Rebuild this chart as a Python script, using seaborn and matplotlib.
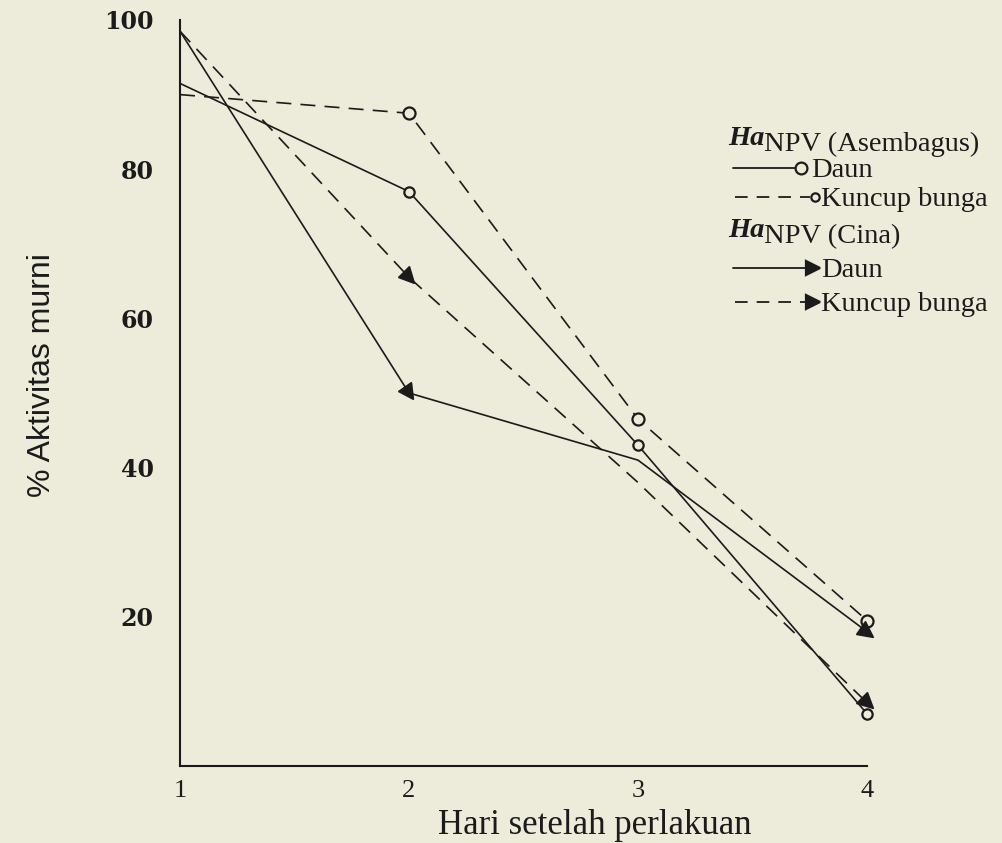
import numpy as np
import pandas as pd
import matplotlib
matplotlib.use("Agg")
import matplotlib.pyplot as plt
import seaborn as sns
from matplotlib.lines import Line2D
from matplotlib.markers import MarkerStyle
from matplotlib.transforms import Affine2D

# ---------------- data ----------------
days = [1, 2, 3, 4]
ase_daun = [91.5, 77.0, 43.0, 7.0]        # HaNPV (Asembagus) - Daun
ase_kuncup = [90.0, 87.5, 46.5, 19.5]     # HaNPV (Asembagus) - Kuncup bunga
cina_daun = [98.5, 50.0, 41.0, 18.0]      # HaNPV (Cina) - Daun
cina_kuncup = [98.5, 65.5, 38.0, 8.5]     # HaNPV (Cina) - Kuncup bunga
y_ticks = [20, 40, 60, 80, 100]
x_ticks = [1, 2, 3, 4]
x_label = "Hari setelah perlakuan"
y_label = "% Aktivitas murni"
group_names = ["(Asembagus)", "(Cina)"]
item_names = ["Daun", "Kuncup bunga"]

BG = '#edebd9'
INK = '#1b1b1b'
W, H = 1003, 843

sns.set_theme(style='white')
plt.rcParams['font.family'] = ['Liberation Serif', 'DejaVu Serif']

fig = plt.figure(figsize=(W / 100, H / 100), dpi=100, facecolor=BG)
ax_l, ax_r, ax_t, ax_b = 180, 867, 20, 766
ax = fig.add_axes([ax_l / W, 1 - ax_b / H, (ax_r - ax_l) / W, (ax_b - ax_t) / H])
ax.set_facecolor(BG)

df = pd.DataFrame({
    'hari': days * 4,
    'aktivitas': ase_daun + ase_kuncup + cina_daun + cina_kuncup,
    'seri': ['ase_daun'] * 4 + ['ase_kuncup'] * 4 + ['cina_daun'] * 4 + ['cina_kuncup'] * 4,
})
pal = {k: INK for k in df['seri'].unique()}
dash = {'ase_daun': '', 'ase_kuncup': (9, 5.5), 'cina_daun': '', 'cina_kuncup': (9, 5.5)}
sns.lineplot(data=df, x='hari', y='aktivitas', hue='seri', style='seri',
             palette=pal, dashes=dash, legend=False, ax=ax, lw=1.2, sort=False)

ax.set_xlim(1, 4)
ax.set_ylim(0, 100)

# open circles (Asembagus) on days 2-4
sub = df[(df['seri'] == 'ase_kuncup') & (df['hari'] > 1)]
sns.scatterplot(data=sub, x='hari', y='aktivitas', marker='o', s=75, facecolor=BG,
                edgecolor=INK, linewidth=1.6, ax=ax, zorder=5, legend=False, clip_on=False)
sub = df[(df['seri'] == 'ase_daun') & (df['hari'] > 1)]
sns.scatterplot(data=sub, x='hari', y='aktivitas', marker='o', s=55, facecolor=BG,
                edgecolor=INK, linewidth=1.6, ax=ax, zorder=5, legend=False, clip_on=False)

# arrowhead triangles (Cina) on days 2 and 4, oriented along the incoming line
for vals in (cina_daun, cina_kuncup):
    for i in (1, 3):
        p0 = ax.transData.transform((days[i - 1], vals[i - 1]))
        p1 = ax.transData.transform((days[i], vals[i]))
        ang = np.degrees(np.arctan2(p1[1] - p0[1], p1[0] - p0[0]))
        m = MarkerStyle('>', transform=Affine2D().rotate_deg(ang))
        ax.plot([days[i]], [vals[i]], marker=m, ms=11, color=INK, mec=INK,
                zorder=6, clip_on=False)

# axes styling
sns.despine(ax=ax)
for s in ('left', 'bottom'):
    ax.spines[s].set_color(INK)
    ax.spines[s].set_linewidth(1.5)
ax.set_yticks(y_ticks)
ax.set_yticklabels([str(v) for v in y_ticks], fontfamily='DejaVu Serif',
                   fontweight='bold', fontsize=17, color=INK)
ax.set_xticks(x_ticks)
ax.set_xticklabels([str(v) for v in x_ticks], fontsize=19, color=INK)
ax.tick_params(axis='y', direction='in', length=8, width=1.4, pad=19, color=INK)
ax.tick_params(axis='x', direction='inout', length=8, width=1.4, pad=6, color=INK)
ax.set_xlabel('')
ax.set_ylabel('')

def fx(x):
    return x / W

def fy(y):
    return 1 - y / H

fig.text(fx(595), fy(826), x_label, ha='center', va='center', fontsize=25, color=INK)
fig.text(fx(42), fy(375), y_label, ha='center', va='center', rotation=90,
         fontsize=23, color=INK, family=['Liberation Sans', 'DejaVu Sans'])

# ---------------- legend (manual) ----------------
FS = 20.5
def header(y_base, suffix):
    t1 = fig.text(fx(728), fy(y_base), 'Ha', fontsize=FS, style='italic',
                  fontweight='bold', va='baseline', ha='left', color=INK)
    fig.canvas.draw()
    ax.annotate('NPV ' + suffix, xy=(1, 0), xycoords=t1, va='baseline', ha='left',
                fontsize=FS, color=INK, annotation_clip=False)

header(145, group_names[0])
header(237, group_names[1])

def leg_line(y, x0, x1, dashed):
    ln = Line2D([fx(x0), fx(x1)], [fy(y), fy(y)], transform=fig.transFigure,
                color=INK, lw=1.3, linestyle=(0, (7, 5)) if dashed else '-')
    fig.add_artist(ln)

def leg_marker(y, x, marker, ms, filled):
    ln = Line2D([fx(x)], [fy(y)], transform=fig.transFigure, marker=marker, ms=ms,
                mfc=INK if filled else BG, mec=INK, mew=1.6, linestyle='none')
    fig.add_artist(ln)

# Asembagus rows
leg_line(168, 733, 795, False)
leg_marker(168, 801, 'o', 8.5, False)
fig.text(fx(811), fy(177), item_names[0], fontsize=FS, va='baseline', color=INK)
leg_line(197, 735, 810, True)
leg_marker(197, 815, 'o', 6, False)
fig.text(fx(821), fy(206), item_names[1], fontsize=FS, va='baseline', color=INK)
# Cina rows
leg_line(268, 733, 810, False)
leg_marker(268, 813, '>', 10, True)
fig.text(fx(821), fy(277), item_names[0], fontsize=FS, va='baseline', color=INK)
leg_line(302, 735, 810, True)
leg_marker(302, 813, '>', 10, True)
fig.text(fx(821), fy(311), item_names[1], fontsize=FS, va='baseline', color=INK)

fig.savefig('out.png', dpi=100, facecolor=BG)
